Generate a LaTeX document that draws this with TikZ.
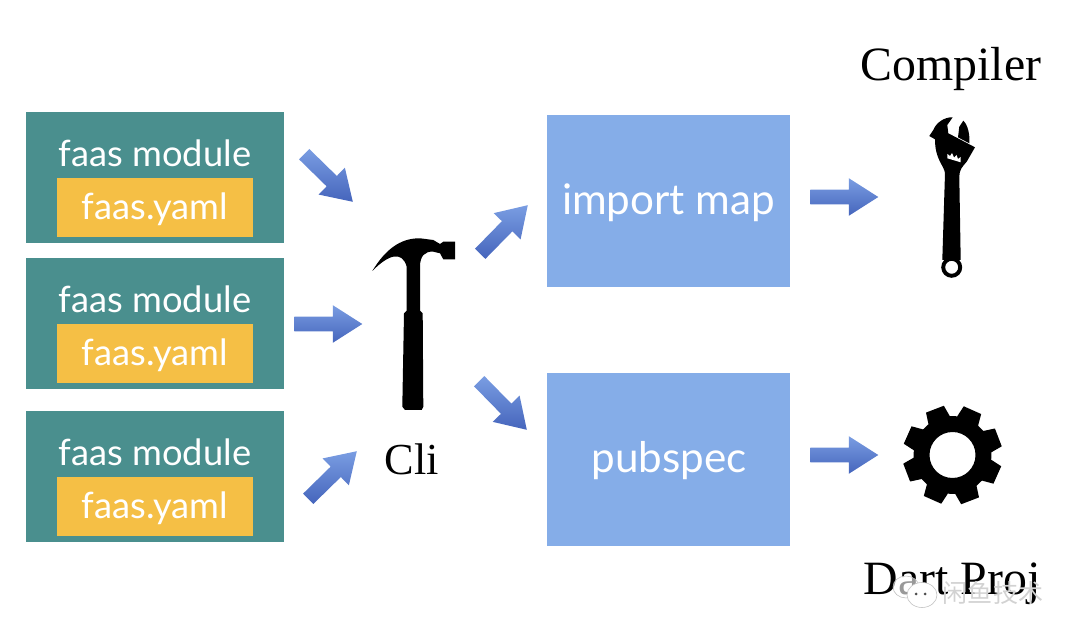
\documentclass[tikz,border=0pt]{standalone}
\usepackage{fontspec}
\usepackage{tikz}
\usetikzlibrary{shapes.arrows}
\setmainfont{Lato}
\newfontfamily\titlefont{Liberation Serif}
\newfontfamily\cjkfont{Noto Sans CJK SC}
\definecolor{moduleteal}{HTML}{4A8F8E}
\definecolor{yamlyellow}{HTML}{F5BF45}
\definecolor{mapblue}{HTML}{85ADE8}
\definecolor{arrowlight}{HTML}{7A9DE2}
\definecolor{arrowdark}{HTML}{4565BC}
\begin{document}
\begin{tikzpicture}[x=0.025cm, y=-0.025cm,
    modulebox/.style = {fill = moduleteal, minimum width = 6.45cm, minimum height = 3.275cm, inner sep = 0},
    yamlbox/.style = {fill = yamlyellow, minimum width = 4.9cm, minimum height = 1.475cm, inner sep = 0},
    modtext/.style = {text = white, font = \fontsize{25.8}{30}\selectfont, inner sep = 0},
    mapbox/.style = {fill = mapblue, minimum width = 6.075cm, minimum height = 4.3cm, inner sep = 0},
    maptext/.style = {text = white, font = \fontsize{30}{36}\selectfont, inner sep = 0},
    titletext/.style = {font = \titlefont\fontsize{34}{40}\selectfont, inner sep = 0},
    flowarrow/.style = {single arrow, single arrow tip angle = 65, single arrow head extend = .2875cm, single arrow head indent = 0,
        minimum height = 1.7cm, minimum width = .925cm, inner xsep = 0, inner ysep = .175cm, top color = arrowlight, bottom color = arrowdark,
        sloped, pos = 0, anchor = tail}]
    \useasboundingbox (0,0) rectangle (1080,642);

    \foreach \i/\y in {1/112, 2/258, 3/411} {
        \node [modulebox] (module\i) at (155,\y+65.5) {};
        \node [yamlbox] (yaml\i) at (155,\y+95.5) {};
        \node [modtext] (modlabel\i) at (155,\y+41) {faas module};
        \node [modtext] (yamllabel\i) at (155,\y+97) {faas.yaml};
    }

    \node [mapbox] (importmap) at (668.5,201) {};
    \node [maptext] (maplabel) at (668.5,203) {import map};
    \node [mapbox] (pubspec) at (668.5,459.5) {};
    \node [maptext] (speclabel) at (669,461) {pubspec};

    \node [titletext] (compiler) at (951,69) {Compiler};
    \node [titletext, font = \titlefont\fontsize{31.5}{38}\selectfont] (cli) at (412,459) {Cli};
    \node [titletext] (dartproj) at (952,584) {Dart Proj};

    % arrows, tail and tip
    \coordinate (t1) at (304,154);  \coordinate (h1) at (352,201);
    \coordinate (t2) at (294,324);  \coordinate (h2) at (362,324);
    \coordinate (t3) at (308,499);  \coordinate (h3) at (356,452);
    \coordinate (t4) at (480,254);  \coordinate (h4) at (527,206);
    \coordinate (t5) at (479,381);  \coordinate (h5) at (527,430);
    \coordinate (t6) at (810,197);  \coordinate (h6) at (878,197);
    \coordinate (t7) at (810,455);  \coordinate (h7) at (878,455);
    \foreach \i in {1,...,7} {
        \path (t\i) -- node [flowarrow] (flow\i) {} (h\i);
    }

    % hammer
    \fill (372.3,271) .. controls (385,250) and (400,238) .. (420,238.3) -- (433.3,240)
        -- (440,244) -- (443.3,241.7) -- (455,241.7) -- (455,259.3) -- (443.3,259.3)
        -- (440,253.3) -- (433.3,251.7) .. controls (425,251) and (420,256) .. (420,266.7)
        -- (420,310.7) -- (422.7,313.3) -- (423.3,406.7) -- (421.7,410) -- (405,410)
        -- (402.3,406.7) -- (404,313.3) -- (406.7,310.7) -- (406.7,266.7)
        .. controls (402,250) and (388,255) .. (372.3,271) -- cycle;

    % wrench
    \fill (942.3,260) -- (945,173.3) .. controls (944,165) and (935,160) .. (935,139.3)
        -- (929.3,136) -- (933.3,130) .. controls (936,123) and (944,117) .. (952.7,117.3)
        -- (947.3,125) -- (948.3,133.3) -- (975,147.3) -- (966.7,161.7)
        .. controls (962,167) and (959.3,170) .. (959.3,176.7)
        -- (960.7,260) -- cycle;
    \fill (958,137.3) -- (959.3,126.7) -- (963.3,120.7) .. controls (968,125) and (970,135) .. (969.3,143.3) -- cycle;
    \fill [even odd rule] (951.7,267.3) circle (10.5) (951.7,267.3) circle (6.5);
    \fill [white] (947.3,158.3) -- (947.5,154) -- (950,156) -- (952,153) -- (954,157.5)
        -- (956.5,155) -- (958,159) -- (960.5,157) -- (960.7,162.3) -- cycle;

    % gear
    \coordinate (gearc) at (952.5,455);
    \fill [even odd rule, shift = {(gearc)}] (7:39)
        \foreach \a in {24,69,...,339} {
            -- ({\a-17}:39) -- ({\a-11}:50) -- ({\a+11}:50) -- ({\a+17}:39)
        } -- cycle (0,0) circle (23);

    % watermark
    \draw [gray!50, fill = white, fill opacity = .6] (906,587) ellipse (13 and 11);
    \draw [gray!50, fill = white] (922,595) ellipse (15 and 12.5);
    \fill [black!70] (916,594) circle (1.5) (925,594) circle (1.5);
    \node [text = gray!35, font = \cjkfont\fontsize{17.8}{20}\selectfont, inner sep = 0] (mark) at (993,593) {闲鱼技术};
\end{tikzpicture}
\end{document}
